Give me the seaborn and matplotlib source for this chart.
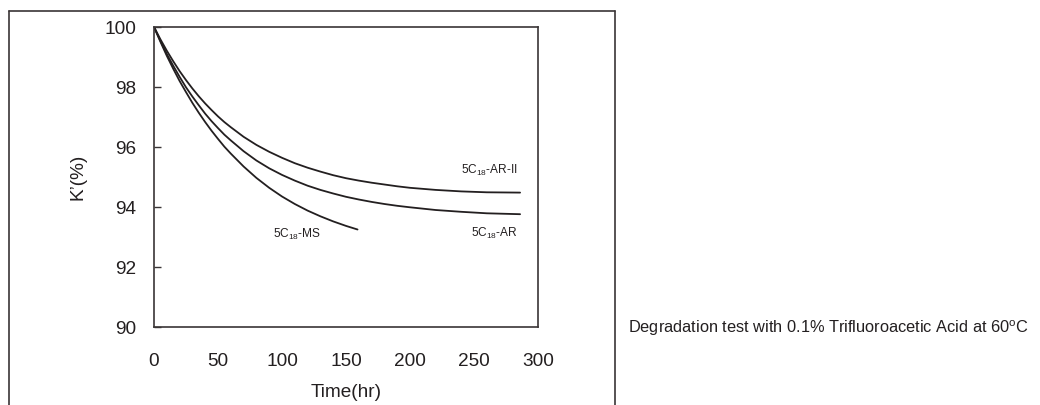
import matplotlib
matplotlib.use("Agg")
import matplotlib.pyplot as plt
import seaborn as sns
import pandas as pd
from matplotlib.lines import Line2D

# ---- data ----
t_ar2 = [0, 5, 10, 15, 20, 25, 30, 35, 40, 45, 50, 55, 60, 70, 80, 90, 100, 110, 120, 130, 140, 150,
         160, 170, 180, 190, 200, 220, 240, 260, 286]
k_ar2 = [100, 99.59, 99.21, 98.86, 98.53, 98.23, 97.95, 97.69, 97.45, 97.23, 97.02, 96.83, 96.66, 96.34,
         96.07, 95.84, 95.64, 95.46, 95.31, 95.18, 95.06, 94.96, 94.88, 94.81, 94.75, 94.69, 94.64,
         94.57, 94.52, 94.49, 94.48]

t_ar = [0, 5, 10, 15, 20, 25, 30, 35, 40, 45, 50, 55, 60, 70, 80, 90, 100, 110, 120, 130, 140, 150,
        160, 170, 180, 190, 200, 220, 240, 260, 286]
k_ar = [100, 99.54, 99.10, 98.71, 98.34, 97.99, 97.68, 97.39, 97.11, 96.86, 96.63, 96.41, 96.22, 95.86,
        95.55, 95.29, 95.07, 94.88, 94.71, 94.57, 94.45, 94.34, 94.25, 94.17, 94.10, 94.04, 93.99,
        93.90, 93.84, 93.79, 93.76]

t_ms = [0, 5, 10, 15, 20, 25, 30, 35, 40, 45, 50, 55, 60, 70, 80, 90, 100, 110, 120, 130, 140, 150, 159]
k_ms = [100, 99.51, 99.04, 98.61, 98.20, 97.83, 97.47, 97.14, 96.83, 96.54, 96.27, 96.01, 95.78, 95.35,
        94.97, 94.64, 94.35, 94.10, 93.88, 93.69, 93.52, 93.37, 93.25]

series_names = ["5C18-AR-II", "5C18-AR", "5C18-MS"]
x_ticks = [0, 50, 100, 150, 200, 250, 300]
y_ticks = [90, 92, 94, 96, 98, 100]

# ---- style ----
sns.set_style("white")
plt.rcParams["font.family"] = ["Liberation Sans", "DejaVu Sans"]
plt.rcParams["mathtext.default"] = "regular"

fig = plt.figure(figsize=(10.4, 4.05), dpi=100)
ax = fig.add_axes([154 / 1040, 78 / 405, 384 / 1040, 300 / 405])

line_col = "#231f20"
frames = []
for name, t, k in zip(series_names, [t_ar2, t_ar, t_ms], [k_ar2, k_ar, k_ms]):
    frames.append(pd.DataFrame({"Time": t, "K": k, "series": name}))
df = pd.concat(frames, ignore_index=True)

sns.lineplot(data=df, x="Time", y="K", units="series", estimator=None, color=line_col,
             linewidth=1.3, ax=ax, legend=False, sort=False)

ax.set_xlim(0, 300)
ax.set_ylim(90, 100)
ax.set_xticks(x_ticks)
ax.set_yticks(y_ticks)
ax.set_xticklabels([str(v) for v in x_ticks])
ax.set_yticklabels([str(v) for v in y_ticks])

for sp in ax.spines.values():
    sp.set_visible(True)
    sp.set_color("#3a3536")
    sp.set_linewidth(1.2)

ax.tick_params(axis="y", direction="in", length=5, width=1.0, color="#3a3536",
               labelsize=13.7, pad=13, labelcolor="#231f20", left=True)
ax.tick_params(axis="x", direction="in", length=0, width=1.0, color="#3a3536",
               labelsize=13.7, pad=19, labelcolor="#231f20", bottom=True)

ax.set_xlabel("Time(hr)", fontsize=13.7, color="#231f20", labelpad=10)
ax.set_ylabel("K\u2019(%)", fontsize=13.7, color="#231f20", labelpad=13)

# curve labels
lab_kw = dict(fontsize=8.6, color="#231f20")
ax.text(284, 95.23, "5C$_{18}$-AR-II", ha="right", va="center", **lab_kw)
ax.text(284, 93.13, "5C$_{18}$-AR", ha="right", va="center", **lab_kw)
ax.text(93, 93.07, "5C$_{18}$-MS", ha="left", va="center", **lab_kw)

# outer frame (bottom edge cut off)
box_col = "#3a3536"
x0, x1 = 9 / 1040, 615 / 1040
ytop = 1 - 11 / 405
for xs, ys in [([x0, x0], [-0.05, ytop]), ([x0, x1], [ytop, ytop]), ([x1, x1], [ytop, -0.05])]:
    fig.add_artist(Line2D(xs, ys, transform=fig.transFigure, color=box_col, linewidth=1.2))

fig.text(628 / 1040, 1 - 328 / 405, "Degradation test with 0.1% Trifluoroacetic Acid at 60$^{o}$C",
         ha="left", va="center", fontsize=11.8, color="#231f20")

fig.savefig("out.png", dpi=100, facecolor="white")
